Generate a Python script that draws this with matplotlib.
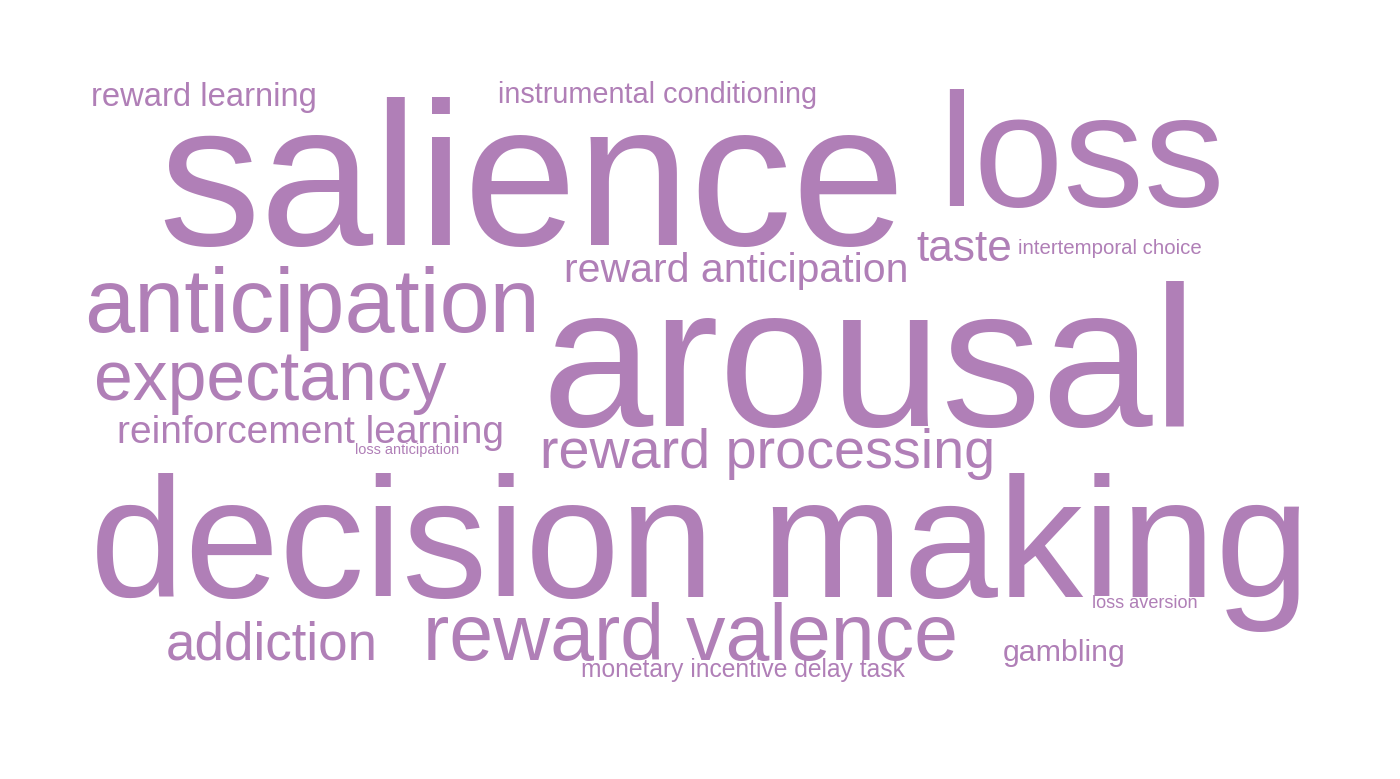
import matplotlib
matplotlib.use("Agg")
import matplotlib.pyplot as plt
from matplotlib import font_manager

# words of the cloud
words = ["reward learning", "instrumental conditioning", "salience", "loss",
         "taste", "intertemporal choice", "reward anticipation", "anticipation",
         "arousal", "expectancy", "reinforcement learning", "loss anticipation",
         "reward processing", "decision making", "loss aversion", "addiction",
         "reward valence", "gambling", "monetary incentive delay task"]

# layout: left x, right x, baseline y (pixels)
left = [91, 498, 158, 938, 916, 1018, 564, 84, 541, 94, 117, 355, 540, 90, 1092, 166, 423, 1003, 581]
right = [317, 817, 905, 1225, 1012, 1201, 908, 540, 1197, 446, 504, 458, 994, 1310, 1198, 378, 958, 1126, 906]
base = [106, 103, 245, 206, 261, 254, 282, 332, 426, 400, 443, 454, 468, 597, 608, 660, 660, 661, 677]

color = "#B07FB7"
W, H = 1400, 779

# regular Liberation Sans (Arial metrics)
paths = [f.fname for f in font_manager.fontManager.ttflist
         if f.fname.endswith("LiberationSans-Regular.ttf")]
fp = font_manager.FontProperties(fname=paths[0]) if paths else \
    font_manager.FontProperties(family="Liberation Sans")

fig = plt.figure(figsize=(W / 100, H / 100), dpi=100)
ax = fig.add_axes([0, 0, 1, 1])
ax.set_xlim(0, W)
ax.set_ylim(H, 0)
ax.axis("off")

# size each word so it fills its box width
renderer = fig.canvas.get_renderer()
for w, x0, x1, y in zip(words, left, right, base):
    t = ax.text(x0, y, w, fontproperties=fp, fontsize=40, color=color,
                ha="left", va="baseline")
    bb = t.get_window_extent(renderer=renderer)
    t.set_fontsize(40 * (x1 - x0) / bb.width)

fig.savefig("out.png", dpi=100, facecolor="white")
